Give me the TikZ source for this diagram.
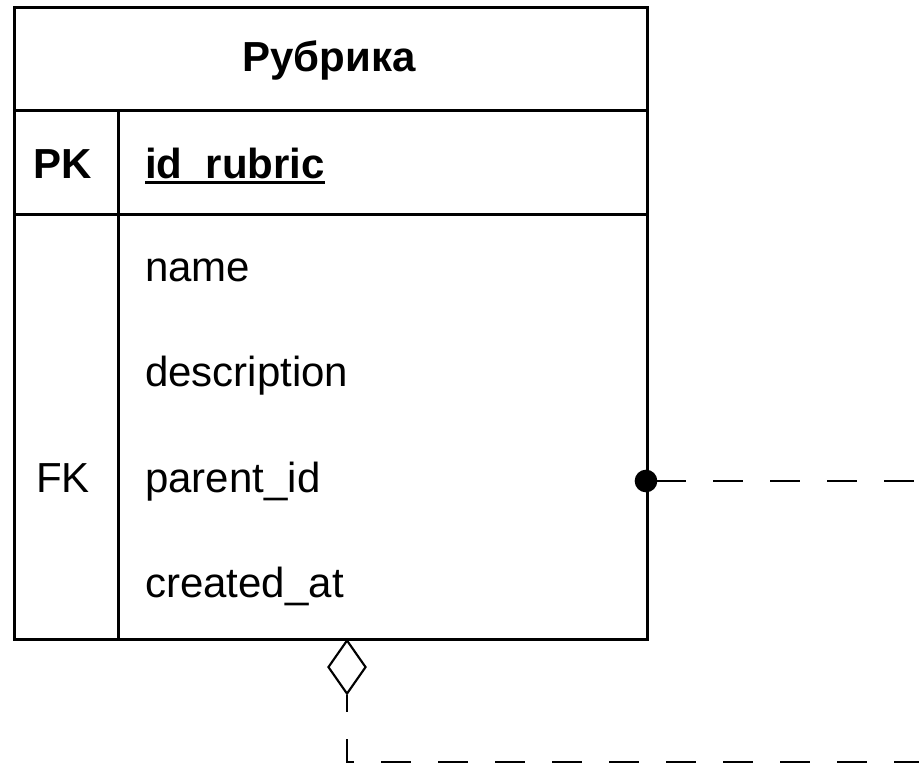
\documentclass[tikz,border=0pt]{standalone}
\usepackage{fontspec}
\setmainfont{Liberation Sans}
\usetikzlibrary{shapes.geometric}
\begin{document}
\begin{tikzpicture}[x=0.75pt,y=-0.75pt,
  tableline/.style={line width=2.25pt},
  cell/.style={font=\fontsize{31.5}{36}\selectfont, inner sep=0pt, anchor=base west},
  keycell/.style={font=\fontsize{31.5}{36}\selectfont, inner sep=0pt, anchor=base},
  relline/.style={line width=1.6pt, dash pattern=on 22.5pt off 20.25pt},
  onedot/.style={circle, fill=black, inner sep=0pt, minimum size=17pt},
  aggregation/.style={diamond, draw, fill=white, line width=1.6pt, inner sep=0pt,
    minimum width=28.5pt, minimum height=40.5pt}]
\useasboundingbox (0,0) rectangle (919,764);

% entity frame
\node[draw, tableline, rectangle, inner sep=0pt, anchor=north west,
  minimum width=633*0.75pt, minimum height=632*0.75pt] (rubric) at (13,5.5) {};
\draw[tableline] (13,110) -- (646,110);
\draw[tableline] (13,214) -- (646,214);
\draw[tableline] (118,110) -- (118,637.5);

% header and key row
\node[keycell, font=\fontsize{31.5}{36}\selectfont\bfseries] (title) at (329,71) {Рубрика};
\node[keycell, font=\fontsize{31.5}{36}\selectfont\bfseries] (pk) at (63,178) {PK};
\node[cell, font=\fontsize{31.5}{36}\selectfont\bfseries] (idrubric) at (145,178) {id\_rubric};
\draw[line width=2.25pt] ([yshift=-3pt]idrubric.base west) -- ([yshift=-3pt]idrubric.base east);

% attribute rows
\node[cell] (fname) at (145,281) {name};
\node[cell] (fdesc) at (145,386.5) {description};
\node[keycell] (fk) at (63,492) {FK};
\node[cell] (fparent) at (145,492) {parent\_id};
\node[cell] (fcreated) at (145,597) {created\_at};

% self reference through parent_id
\node[onedot] (dot) at (646,481) {};
\coordinate (outright) at (919,481);
\draw[relline, shorten <=7.5pt] (dot.center) -- (outright);

\node[aggregation, anchor=north] (agg) at (347,639) {};
\coordinate (corner) at (347,762);
\coordinate (outbottom) at (919,762);
\draw[relline, dash phase=9.75pt] (agg.south) -- (corner) -- (outbottom);
\end{tikzpicture}
\end{document}
